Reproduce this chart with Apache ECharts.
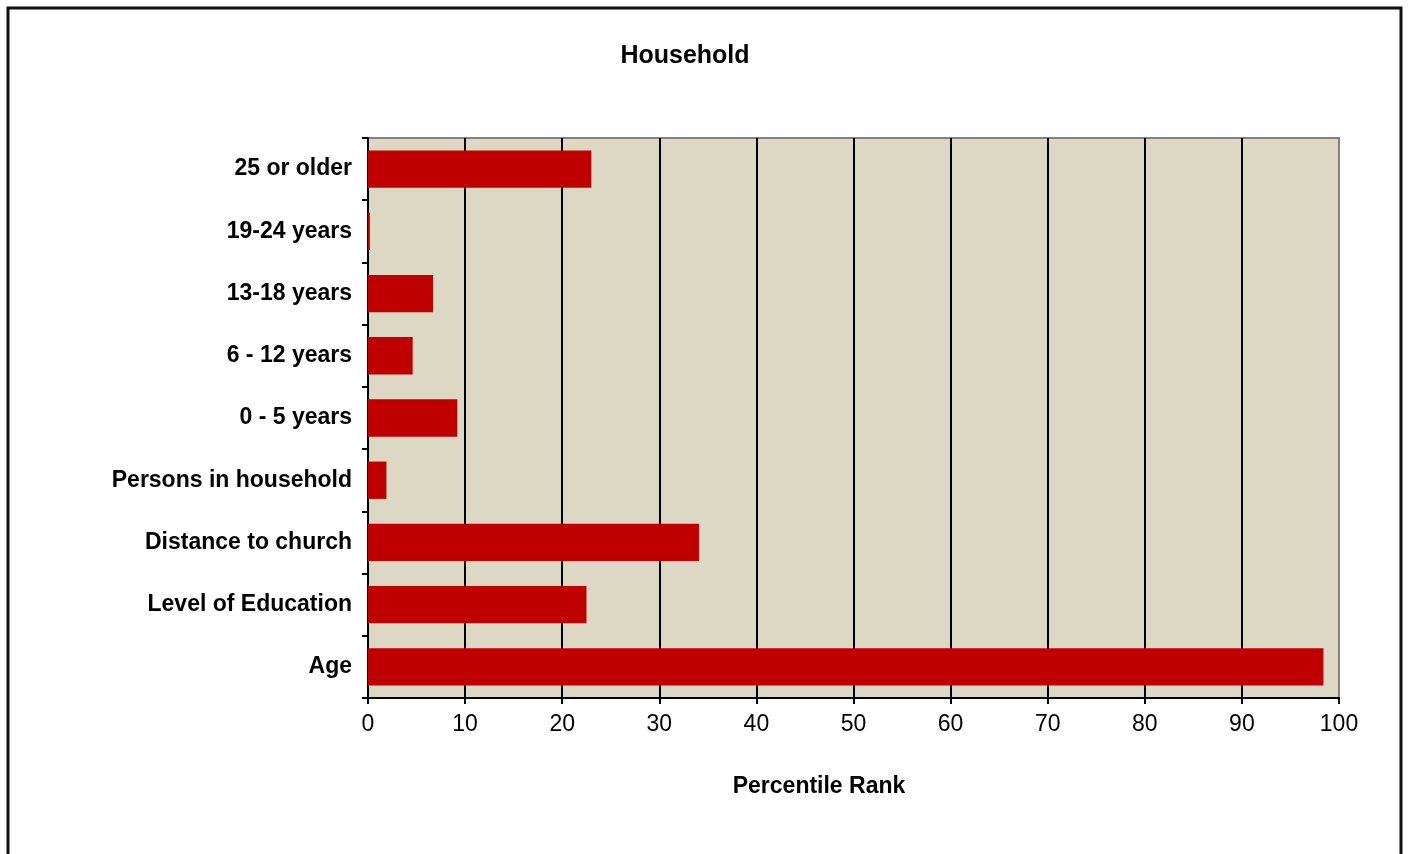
<!DOCTYPE html>
<html>
<head>
<meta charset="utf-8">
<script src="https://cdn.jsdelivr.net/npm/echarts@6/dist/echarts.min.js"></script>
<style>
  html, body { margin: 0; padding: 0; background: #fff; }
  #chart { width: 1409px; height: 854px; }
</style>
</head>
<body>
<div id="chart"></div>
<script>
// categories top to bottom
var categories = ['25 or older', '19-24 years', '13-18 years', '6 - 12 years', '0 - 5 years',
  'Persons in household', 'Distance to church', 'Level of Education', 'Age'];
var percentileRank = [23.0, 0.2, 6.7, 4.6, 9.2, 1.9, 34.1, 22.5, 98.4];
var xTicks = [0, 10, 20, 30, 40, 50, 60, 70, 80, 90, 100];

var font = '"Liberation Sans", Arial, sans-serif';
var chart = echarts.init(document.getElementById('chart'));

// black grid lines, last one grey like the plot frame
var splitColors = xTicks.map(function (t, i) { return i === xTicks.length - 1 ? '#808080' : '#000'; });

var option = {
  animation: false,
  graphic: [
    {
      type: 'rect',
      shape: { x: 8, y: 8, width: 1393, height: 870 },
      style: { fill: 'none', stroke: '#111', lineWidth: 3 },
      silent: true, z: 0
    },
    {
      type: 'text', x: 685, y: 56,
      style: { text: 'Household', font: 'bold 25px ' + font, fill: '#000', textAlign: 'center', textVerticalAlign: 'middle' }
    },
    {
      type: 'text', x: 819, y: 787,
      style: { text: 'Percentile Rank', font: 'bold 23px ' + font, fill: '#000', textAlign: 'center', textVerticalAlign: 'middle' }
    }
  ],
  grid: {
    left: 368, right: 70, top: 138, bottom: 156,
    show: true,
    backgroundColor: '#DDD8C3',
    borderColor: '#808080',
    borderWidth: 2
  },
  xAxis: {
    type: 'value',
    min: 0, max: 100, interval: 10,
    axisLine: { show: true, lineStyle: { color: '#000', width: 2 } },
    axisTick: { show: true, length: 6, lineStyle: { color: '#000', width: 2 } },
    axisLabel: {
      margin: 15, color: '#000', fontSize: 23, fontFamily: font,
      formatter: function (v) { return xTicks.indexOf(v) >= 0 ? String(v) : ''; }
    },
    splitLine: { show: true, lineStyle: { color: splitColors, width: 2 } }
  },
  yAxis: {
    type: 'category',
    inverse: true,
    data: categories,
    axisLine: { show: true, lineStyle: { color: '#000', width: 2 } },
    axisTick: { show: true, length: 6, lineStyle: { color: '#000', width: 2 } },
    axisLabel: { margin: 16, color: '#000', fontSize: 23, fontWeight: 'bold', fontFamily: font }
  },
  series: [
    {
      name: 'Percentile Rank',
      type: 'bar',
      data: percentileRank,
      barCategoryGap: '40%',
      itemStyle: { color: '#C00000' }
    }
  ]
};
chart.setOption(option);
</script>
</body>
</html>
